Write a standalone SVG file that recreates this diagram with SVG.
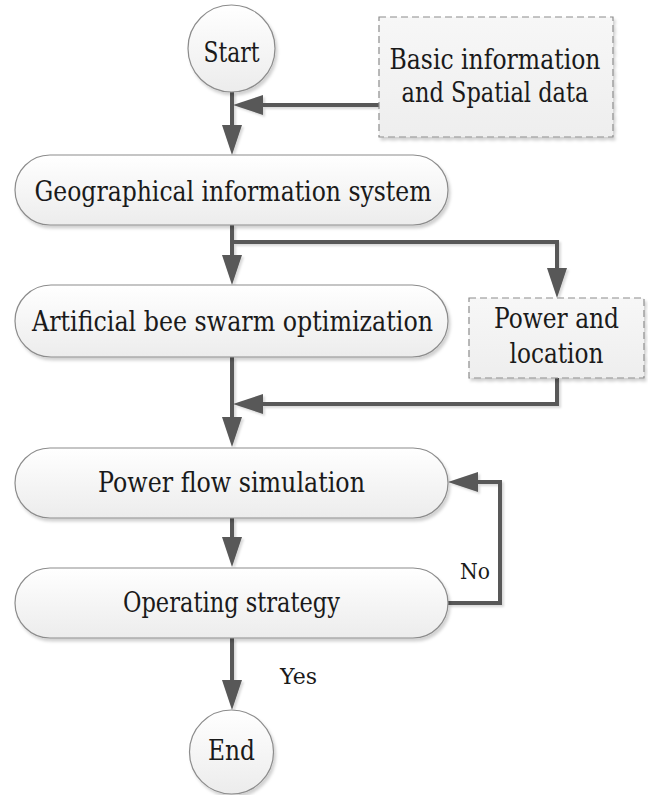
<svg xmlns="http://www.w3.org/2000/svg" width="648" height="795" viewBox="0 0 648 795">
  <defs>
    <linearGradient id="fillTerm" x1="0" y1="0" x2="0" y2="1">
      <stop offset="0" stop-color="#ffffff"/>
      <stop offset="1" stop-color="#ececec"/>
    </linearGradient>
    <linearGradient id="fillData" x1="0" y1="0" x2="0" y2="1">
      <stop offset="0" stop-color="#f7f7f7"/>
      <stop offset="1" stop-color="#eeeeee"/>
    </linearGradient>
    <filter id="shade" x="-10%" y="-10%" width="125%" height="130%">
      <feDropShadow dx="2" dy="3" stdDeviation="1.5" flood-color="#000" flood-opacity="0.18"/>
    </filter>
    <filter id="lineShade" x="-10%" y="-10%" width="125%" height="130%">
      <feDropShadow dx="2" dy="2" stdDeviation="1" flood-color="#000" flood-opacity="0.15"/>
    </filter>
    <marker id="arrow" viewBox="0 0 30 20" markerUnits="userSpaceOnUse" markerWidth="30" markerHeight="20" refX="18" refY="10" orient="auto">
      <path d="M0,0 L30,10 L0,20 Z" fill="#595959"/>
    </marker>
  </defs>
  <style>
    .term { fill: url(#fillTerm); stroke: #8c8c8c; stroke-width: 1.2; filter: url(#shade); }
    .data { fill: url(#fillData); stroke: #8c8c8c; stroke-width: 1.2; stroke-dasharray: 7 4; filter: url(#shade); }
    text { font-family: "DejaVu Serif", "Liberation Serif", serif; fill: #1a1a1a; }
    .label { font-size: 28px; text-anchor: middle; }
    .small { font-size: 23px; }
    .conn { fill: none; stroke: #595959; stroke-width: 4; stroke-linejoin: miter; }
  </style>

  <!-- connectors -->
  <g id="connectors" filter="url(#lineShade)">
    <!-- Start -> GIS -->
    <path class="conn" d="M232,92 V143" marker-end="url(#arrow)"/>
    <!-- data feed -> main line -->
    <path class="conn" d="M379,105 H245" marker-end="url(#arrow)"/>
    <!-- GIS -> ABSO -->
    <path class="conn" d="M232,225 V273" marker-end="url(#arrow)"/>
    <!-- GIS -> Power and location -->
    <path class="conn" d="M232,242 H557 V286" marker-end="url(#arrow)"/>
    <!-- ABSO -> Power flow -->
    <path class="conn" d="M232,357 V435" marker-end="url(#arrow)"/>
    <!-- Power and location -> main line -->
    <path class="conn" d="M557,378 V404 H245" marker-end="url(#arrow)"/>
    <!-- Power flow -> Operating strategy -->
    <path class="conn" d="M232,518 V555" marker-end="url(#arrow)"/>
    <!-- No loop back to Power flow -->
    <path class="conn" d="M448,603 H500 V482 H460" marker-end="url(#arrow)"/>
    <!-- Yes -> End -->
    <path class="conn" d="M232,638 V698" marker-end="url(#arrow)"/>
  </g>

  <g id="start">
    <circle class="term" cx="231.5" cy="48.5" r="43.5"/>
    <text class="label" x="231.5" y="62" textLength="56" lengthAdjust="spacingAndGlyphs">Start</text>
  </g>

  <g id="basic-info">
    <rect class="data" x="379" y="17" width="234" height="120"/>
    <text class="label" x="495" y="69" textLength="211" lengthAdjust="spacingAndGlyphs">Basic information</text>
    <text class="label" x="495" y="102" textLength="187" lengthAdjust="spacingAndGlyphs">and Spatial data</text>
  </g>

  <g id="gis">
    <rect class="term" x="15" y="155" width="433" height="70" rx="35" ry="35"/>
    <text class="label" x="233" y="201" textLength="397" lengthAdjust="spacingAndGlyphs">Geographical information system</text>
  </g>

  <g id="abso">
    <rect class="term" x="15" y="285" width="433" height="72" rx="36" ry="36"/>
    <text class="label" x="232.5" y="331" textLength="401" lengthAdjust="spacingAndGlyphs">Artificial bee swarm optimization</text>
  </g>

  <g id="power-location">
    <rect class="data" x="469" y="298" width="175" height="80"/>
    <text class="label" x="556.5" y="328" textLength="125" lengthAdjust="spacingAndGlyphs">Power and</text>
    <text class="label" x="556.5" y="363" textLength="94" lengthAdjust="spacingAndGlyphs">location</text>
  </g>

  <g id="power-flow">
    <rect class="term" x="15" y="448" width="433" height="70" rx="35" ry="35"/>
    <text class="label" x="231.5" y="492" textLength="267" lengthAdjust="spacingAndGlyphs">Power flow simulation</text>
  </g>

  <g id="operating-strategy">
    <rect class="term" x="15" y="568" width="433" height="70" rx="35" ry="35"/>
    <text class="label" x="231.5" y="612" textLength="217" lengthAdjust="spacingAndGlyphs">Operating strategy</text>
  </g>

  <g id="end">
    <circle class="term" cx="231.5" cy="752" r="42"/>
    <text class="label" x="231.5" y="760" textLength="47" lengthAdjust="spacingAndGlyphs">End</text>
  </g>

  <text class="small" x="460" y="579" textLength="30" lengthAdjust="spacingAndGlyphs">No</text>
  <text class="small" x="280" y="684" textLength="37" lengthAdjust="spacingAndGlyphs">Yes</text>
</svg>
